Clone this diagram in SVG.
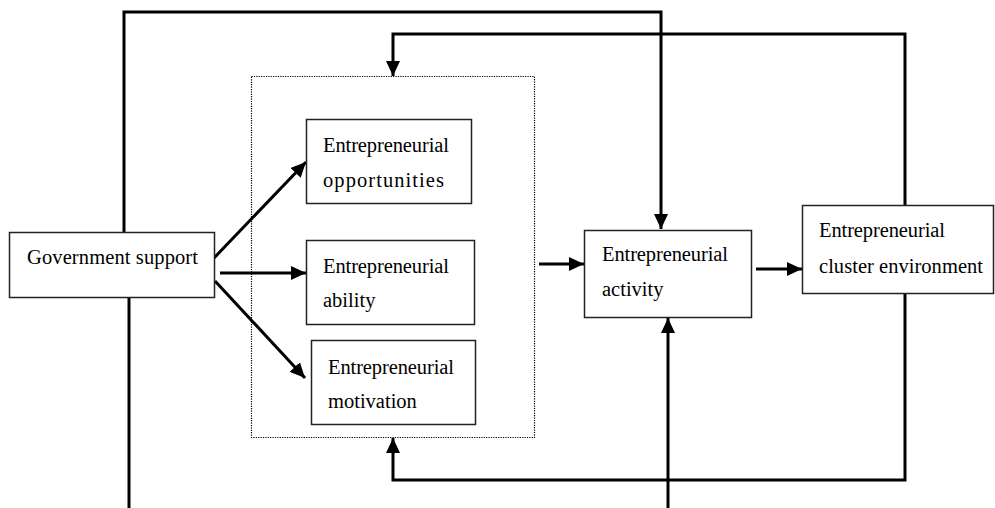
<svg xmlns="http://www.w3.org/2000/svg" width="995" height="508" viewBox="0 0 995 508">
  <style>
    .box { fill: #ffffff; stroke: #222222; stroke-width: 1.5; }
    .group { fill: none; stroke: #000000; stroke-width: 1.2; stroke-dasharray: 1.2 1.2; }
    .label { font-family: "Liberation Serif", "Times New Roman", serif; font-size: 20.5px; fill: #000000; }
    .wire { fill: none; stroke: #000000; stroke-width: 3; }
    .arrow { marker-end: url(#head); }
  </style>
  <defs>
    <marker id="head" markerUnits="userSpaceOnUse" markerWidth="15" markerHeight="14" refX="15" refY="7" orient="auto">
      <path d="M0,0 L15,7 L0,14 z" fill="#000000"/>
    </marker>
  </defs>
  <rect width="995" height="508" fill="#ffffff"/>

  <!-- dotted grouping frame around the three entrepreneurial factors -->
  <rect id="factors" class="group" x="251.5" y="76.5" width="283" height="361"/>

  <g id="connectors">
    <path class="wire arrow" d="M124,232 V12 H661 V229"/>
    <path class="wire arrow" d="M905,205 V34 H393 V76"/>
    <path class="wire arrow" d="M905,294 V480 H393 V438"/>
    <path class="wire" d="M129,298 V508"/>
    <path class="wire arrow" d="M668,508 V318"/>
    <path class="wire arrow" d="M214,258 L306,162"/>
    <path class="wire arrow" d="M220,273 H306"/>
    <path class="wire arrow" d="M215,281 L305,378"/>
    <path class="wire arrow" d="M539,264 H584"/>
    <path class="wire arrow" d="M756,269 H802"/>
  </g>

  <g id="government">
    <rect class="box" x="9.5" y="232.5" width="205" height="65"/>
    <text class="label" x="27" y="264" textLength="171">Government support</text>
  </g>

  <g id="opportunities">
    <rect class="box" x="306.5" y="119.5" width="165" height="84"/>
    <text class="label" x="323" y="152" textLength="126">Entrepreneurial</text>
    <text class="label" x="323" y="187" textLength="121">opportunities</text>
  </g>

  <g id="ability">
    <rect class="box" x="306.5" y="240.5" width="168" height="84"/>
    <text class="label" x="323" y="273" textLength="126">Entrepreneurial</text>
    <text class="label" x="323" y="307">ability</text>
  </g>

  <g id="motivation">
    <rect class="box" x="311.5" y="340.5" width="164" height="84"/>
    <text class="label" x="328" y="374" textLength="126">Entrepreneurial</text>
    <text class="label" x="328" y="408">motivation</text>
  </g>

  <g id="activity">
    <rect class="box" x="584.5" y="230.5" width="167" height="87"/>
    <text class="label" x="602" y="261" textLength="126">Entrepreneurial</text>
    <text class="label" x="602" y="296">activity</text>
  </g>

  <g id="cluster">
    <rect class="box" x="802.5" y="205.5" width="191" height="88"/>
    <text class="label" x="819" y="237" textLength="126">Entrepreneurial</text>
    <text class="label" x="819" y="273" textLength="164">cluster environment</text>
  </g>
</svg>
